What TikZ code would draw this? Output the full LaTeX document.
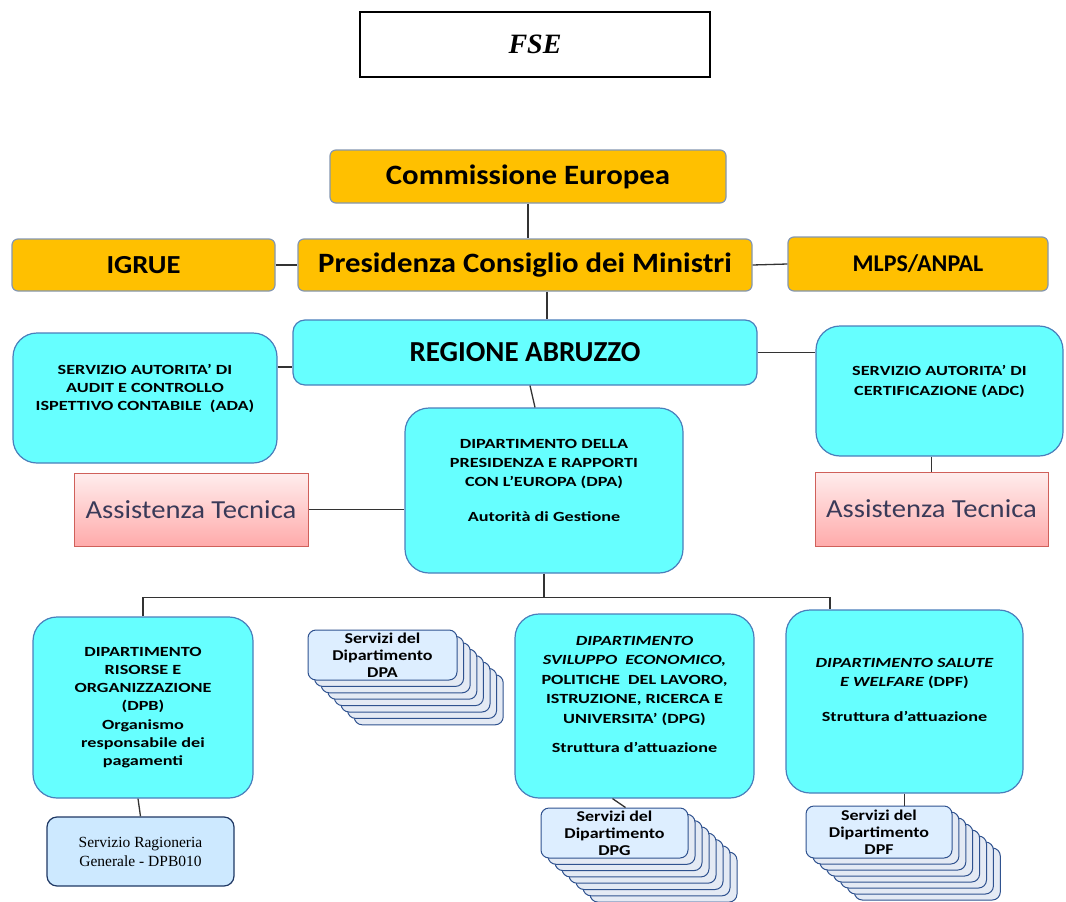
\documentclass[tikz,border=0pt]{standalone}
\usepackage{fontspec}
\setmainfont{Carlito}
\newfontfamily\timesfont{Liberation Serif}
\newfontfamily\entefont[FakeStretch=1.1]{Carlito}
\newfontfamily\largafont[FakeStretch=1.3]{Carlito}
\newfontfamily\cardfont[FakeStretch=1.2]{Carlito}
\usetikzlibrary{positioning,calc}
\definecolor{ueorange}{HTML}{FFC000}
\definecolor{orangeline}{HTML}{8497B0}
\definecolor{regcyan}{HTML}{66FFFF}
\definecolor{cyanline}{HTML}{4A7EBB}
\definecolor{atline}{HTML}{D0605A}
\definecolor{attext}{HTML}{3A3A58}
\definecolor{servline}{HTML}{2F528F}
\definecolor{servfill}{HTML}{DDEEFF}
\definecolor{servback}{HTML}{E4EAF4}
\definecolor{ragfill}{HTML}{CDE9FF}
\definecolor{ragline}{HTML}{1F3864}
\tikzset{
    ente/.style={
        draw=orangeline,
        fill=ueorange,
        rounded corners=6pt,
        line width=1.2pt,
        inner sep=0pt,
        font=\entefont\bfseries\fontsize{28}{32}\selectfont
    },
    ufficio/.style={
        draw=cyanline,
        fill=regcyan,
        rounded corners=24pt,
        line width=1.2pt,
        inner sep=0pt,
        align=center,
        font=\largafont\bfseries\fontsize{14}{18}\selectfont
    },
    assist/.style={
        draw=atline,
        top color=red!7,
        bottom color=red!33,
        line width=1pt,
        inner sep=0pt,
        text=attext,
        font=\entefont\fontsize{26}{28}\selectfont
    },
    servizio/.style={
        draw=servline,
        fill=servfill,
        rounded corners=8pt,
        line width=1pt,
        inner sep=0pt,
        align=center,
        font=\cardfont\bfseries\fontsize{15}{17}\selectfont
    },
    collega/.style={
        draw=black!80,
        line width=1.3pt
    }
}

\begin{document}
\begin{tikzpicture}[x=1pt, y=-1pt]
    \useasboundingbox (0,0) rectangle (1066,902);

    % Title
    \node[draw, line width=1.6pt, minimum width=350pt, minimum height=65pt,
          font=\timesfont\bfseries\itshape\fontsize{28}{30}\selectfont] (fse) at (535,44.5) {FSE};

    % Upper institutions
    \node[ente, minimum width=396pt, minimum height=53pt] (comm) at (528,176.5) {Commissione Europea};
    \node[ente, minimum width=263pt, minimum height=52pt, font=\entefont\bfseries\fontsize{26}{30}\selectfont] (igrue) at (143.5,265) {IGRUE};
    \node[ente, minimum width=454pt, minimum height=52pt] (pres) at (525,265) {Presidenza Consiglio dei Ministri};
    \node[ente, minimum width=260pt, minimum height=54pt, font=\bfseries\fontsize{24}{28}\selectfont] (mlps) at (918,264) {MLPS/ANPAL};

    % Regione and authorities
    \node[ufficio, rounded corners=12pt, minimum width=464pt, minimum height=65pt,
          font=\bfseries\fontsize{29}{32}\selectfont] (reg) at (525,352.5) {REGIONE ABRUZZO};
    \node[ufficio, minimum width=264pt, minimum height=130pt] (ada) at (145,398)
        {SERVIZIO AUTORITA’ DI\\ AUDIT E CONTROLLO\\ ISPETTIVO CONTABILE \ (ADA)\\[3pt]};
    \node[ufficio, minimum width=247pt, minimum height=130pt] (adc) at (939.5,391)
        {SERVIZIO AUTORITA’ DI\\[2pt] CERTIFICAZIONE (ADC)\\[4pt]};
    \node[ufficio, minimum width=278pt, minimum height=165pt, font=\largafont\bfseries\fontsize{14}{19}\selectfont] (dpa) at (544,490.5)
        {DIPARTIMENTO DELLA\\ PRESIDENZA E RAPPORTI\\ CON L’EUROPA (DPA)\\[16pt] Autorità di Gestione\\[2pt]};
    \node[assist, minimum width=234pt, minimum height=73pt] (atl) at (191,509.5) {Assistenza Tecnica};
    \node[assist, minimum width=233pt, minimum height=74pt] (atr) at (931.5,509) {Assistenza Tecnica};

    % Departments
    \node[ufficio, minimum width=220pt, minimum height=181pt, font=\largafont\bfseries\fontsize{14}{18.3}\selectfont] (dpb) at (143,707.5)
        {DIPARTIMENTO\\ RISORSE E\\ ORGANIZZAZIONE\\ (DPB)\\ Organismo\\ responsabile dei\\ pagamenti};
    \node[ufficio, minimum width=239pt, minimum height=184pt, font=\largafont\bfseries\fontsize{14}{19.5}\selectfont] (dpg) at (634.5,706)
        {\itshape DIPARTIMENTO\\ \itshape SVILUPPO \ ECONOMICO,\\ POLITICHE \ DEL LAVORO,\\ ISTRUZIONE, RICERCA E\\ UNIVERSITA’ (DPG)\\[10pt] Struttura d’attuazione\\[3.5pt]};
    \node[ufficio, minimum width=237pt, minimum height=183pt, font=\largafont\bfseries\fontsize{14}{19.5}\selectfont] (dpf) at (904.5,701.5)
        {\itshape DIPARTIMENTO SALUTE\\ \itshape E WELFARE \upshape(DPF)\\[15pt] Struttura d’attuazione\\[4pt]};

    % Stacked service cards
    \foreach \k in {7,...,1} {
        \draw[servline, fill=servback, line width=1pt, rounded corners=8pt]
            ($(308,630)+(6.6*\k,6.4*\k)$) rectangle ++(149,50);
        \draw[servline, fill=servback, line width=1pt, rounded corners=8pt]
            ($(541,808)+(7*\k,6.3*\k)$) rectangle ++(147,50);
        \draw[servline, fill=servback, line width=1pt, rounded corners=8pt]
            ($(806,806)+(6.9*\k,6*\k)$) rectangle ++(146,52);
    }
    \node[servizio, minimum width=149pt, minimum height=50pt] (srvdpa) at (382.5,655) {Servizi del\\ Dipartimento\\ DPA};
    \node[servizio, minimum width=147pt, minimum height=50pt] (srvdpg) at (614.5,833) {Servizi del\\ Dipartimento\\ DPG};
    \node[servizio, minimum width=146pt, minimum height=52pt] (srvdpf) at (879,832) {Servizi del\\ Dipartimento\\ DPF};

    \node[draw=ragline, fill=ragfill, line width=1.2pt, rounded corners=10pt, align=center,
          minimum width=187pt, minimum height=69pt, font=\timesfont\fontsize{15.5}{19}\selectfont] (rag) at (140.5,851.5)
        {Servizio Ragioneria\\ Generale - DPB010};

    % Connectors
    \draw[collega] (comm.south) -- (comm.south |- pres.north);
    \draw[collega] (igrue.east) -- (pres.west);
    \draw[collega] (pres.east) -- (mlps.west);
    \draw[collega] ($(pres.south)+(22,0)$) -- ($(reg.north)+(22,0)$);
    \coordinate (adaj) at ($(ada.east)+(0,-31)$);
    \draw[collega] (adaj) -- (adaj -| reg.west);
    \draw[collega] (reg.east) -- (reg.east -| adc.west);
    \draw[collega] ($(reg.south)+(5,0)$) -- ($(dpa.north)+(-9,0)$);
    \draw[collega] (atl.east) -- (atl.east -| dpa.west);
    \draw[collega] (atr.north |- adc.south) -- (atr.north);

    % Bus to the departments
    \coordinate (bus) at ($(dpa.south)+(2,24)$);
    \draw[collega] (dpa.south) -- (dpa.south |- bus);
    \draw[collega] (dpb.north) |- (bus) -| ($(dpf.north)+(-74.5,0)$);
    \draw[collega] ($(srvdpa.north)+(59.5,0)$) -- ($(srvdpa.north)+(59.5,0)$ |- bus);
    \draw[collega, draw=cyanline] ($(dpg.north)+(13.5,0)$) -- ($(dpg.north)+(13.5,0)$ |- bus);

    % Lower links
    \draw[collega] ($(dpb.south)+(-5,0)$) -- (rag.north);
    \draw[collega] ($(dpg.south)+(-22,0)$) -- ($(srvdpg.north)+(11,0)$);
    \draw[collega] (dpf.south) -- (dpf.south |- srvdpf.north);
\end{tikzpicture}
\end{document}
